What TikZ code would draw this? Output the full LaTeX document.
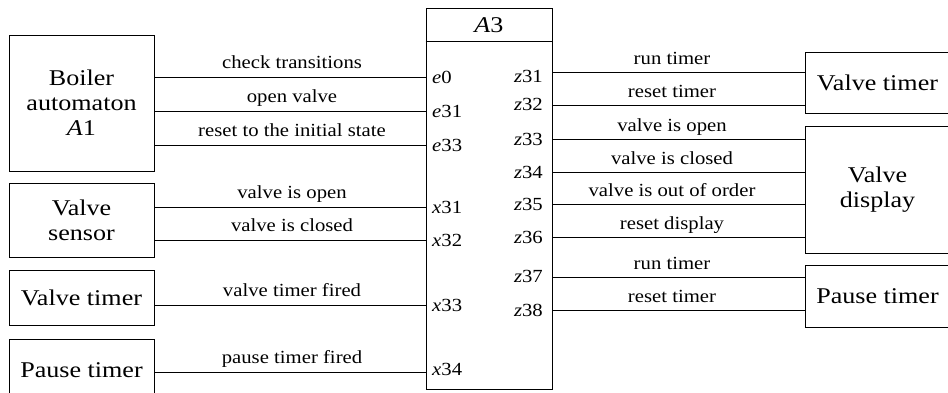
\documentclass[tikz,border=0pt]{standalone}
\usepackage{fontspec}
\setmainfont{Liberation Serif}
\newfontfamily\bigfont[FakeStretch=1.16]{Liberation Serif}
\newfontfamily\lblfont[FakeStretch=1.12]{Liberation Serif}
\begin{document}
\begin{tikzpicture}[x=1pt,y=-1pt,
  block/.style={draw, line width=1pt, inner sep=0pt, align=center,
    font=\bigfont\fontsize{22.5}{25}\selectfont},
  wire/.style={line width=1pt},
  sig/.style={anchor=base, inner sep=0pt, font=\lblfont\fontsize{18.5}{20}\selectfont},
  portl/.style={anchor=base west, inner sep=0pt, font=\lblfont\fontsize{18.5}{20}\selectfont},
  portr/.style={anchor=base east, inner sep=0pt, font=\lblfont\fontsize{18.5}{20}\selectfont}]
\useasboundingbox (0,0) rectangle (948,392);
\clip (0,0) rectangle (948,392);

% central automaton
\node[block, minimum width=126pt, minimum height=381pt] (a3) at (489,198.5) {};
\coordinate (tsep) at (0,41);
\draw[wire] (a3.west |- tsep) -- (a3.east |- tsep);
\node[block, draw=none] (title) at (489,25) {\textit{A}3};

% sources on the left
\node[block, minimum width=145pt, minimum height=136pt] (boiler) at (81.5,103) {Boiler\\automaton\\\textit{A}1};
\node[block, minimum width=145pt, minimum height=74pt] (sensor) at (81.5,220) {Valve\\sensor};
\node[block, minimum width=145pt, minimum height=55pt] (vtimerL) at (81.5,297.5) {Valve timer};
\node[block, minimum width=145pt, minimum height=62pt] (ptimerL) at (81.5,370) {Pause timer};

% receivers on the right
\node[block, minimum width=145pt, minimum height=61pt] (vtimerR) at (877.5,82.5) {Valve timer};
\node[block, minimum width=145pt, minimum height=127pt] (display) at (877.5,189.5) {Valve\\display};
\node[block, minimum width=145pt, minimum height=62pt] (ptimerR) at (877.5,296) {Pause timer};

% input lines
\coordinate (ye0) at (0,77);
\coordinate (ye31) at (0,111);
\coordinate (ye33) at (0,145);
\coordinate (yx31) at (0,207);
\coordinate (yx32) at (0,240);
\coordinate (yx33) at (0,305);
\coordinate (yx34) at (0,372);
\draw[wire] (boiler.east |- ye0) -- (a3.west |- ye0);
\draw[wire] (boiler.east |- ye31) -- (a3.west |- ye31);
\draw[wire] (boiler.east |- ye33) -- (a3.west |- ye33);
\draw[wire] (sensor.east |- yx31) -- (a3.west |- yx31);
\draw[wire] (sensor.east |- yx32) -- (a3.west |- yx32);
\draw[wire] (vtimerL.east |- yx33) -- (a3.west |- yx33);
\draw[wire] (ptimerL.east |- yx34) -- (a3.west |- yx34);

\node[sig] (l1) at (292,68.5) {check transitions};
\node[sig] (l2) at (292,102.5) {open valve};
\node[sig] (l3) at (292,136.5) {reset to the initial state};
\node[sig] (l4) at (292,198.5) {valve is open};
\node[sig] (l5) at (292,231.5) {valve is closed};
\node[sig] (l6) at (292,296.5) {valve timer fired};
\node[sig] (l7) at (292,363.5) {pause timer fired};

\node[portl] (pe0) at (432,83) {\textit{e}0};
\node[portl] (pe31) at (432,117) {\textit{e}31};
\node[portl] (pe33) at (432,151) {\textit{e}33};
\node[portl] (px31) at (432,213) {\textit{x}31};
\node[portl] (px32) at (432,246) {\textit{x}32};
\node[portl] (px33) at (432,311) {\textit{x}33};
\node[portl] (px34) at (432,375) {\textit{x}34};

% output lines
\coordinate (yz31) at (0,72);
\coordinate (yz32) at (0,105);
\coordinate (yz33) at (0,139);
\coordinate (yz34) at (0,172);
\coordinate (yz35) at (0,204);
\coordinate (yz36) at (0,237);
\coordinate (yz37) at (0,277);
\coordinate (yz38) at (0,310);
\draw[wire] (a3.east |- yz31) -- (vtimerR.west |- yz31);
\draw[wire] (a3.east |- yz32) -- (vtimerR.west |- yz32);
\draw[wire] (a3.east |- yz33) -- (display.west |- yz33);
\draw[wire] (a3.east |- yz34) -- (display.west |- yz34);
\draw[wire] (a3.east |- yz35) -- (display.west |- yz35);
\draw[wire] (a3.east |- yz36) -- (display.west |- yz36);
\draw[wire] (a3.east |- yz37) -- (ptimerR.west |- yz37);
\draw[wire] (a3.east |- yz38) -- (ptimerR.west |- yz38);

\node[sig] (r1) at (672,64.5) {run timer};
\node[sig] (r2) at (672,97.5) {reset timer};
\node[sig] (r3) at (672,131.5) {valve is open};
\node[sig] (r4) at (672,164.5) {valve is closed};
\node[sig] (r5) at (672,196.5) {valve is out of order};
\node[sig] (r6) at (672,229.5) {reset display};
\node[sig] (r7) at (672,269.5) {run timer};
\node[sig] (r8) at (672,302.5) {reset timer};

\node[portr] (pz31) at (543,82) {\textit{z}31};
\node[portr] (pz32) at (543,110) {\textit{z}32};
\node[portr] (pz33) at (543,145.5) {\textit{z}33};
\node[portr] (pz34) at (543,178) {\textit{z}34};
\node[portr] (pz35) at (543,210.5) {\textit{z}35};
\node[portr] (pz36) at (543,243) {\textit{z}36};
\node[portr] (pz37) at (543,282.5) {\textit{z}37};
\node[portr] (pz38) at (543,316) {\textit{z}38};
\end{tikzpicture}
\end{document}
